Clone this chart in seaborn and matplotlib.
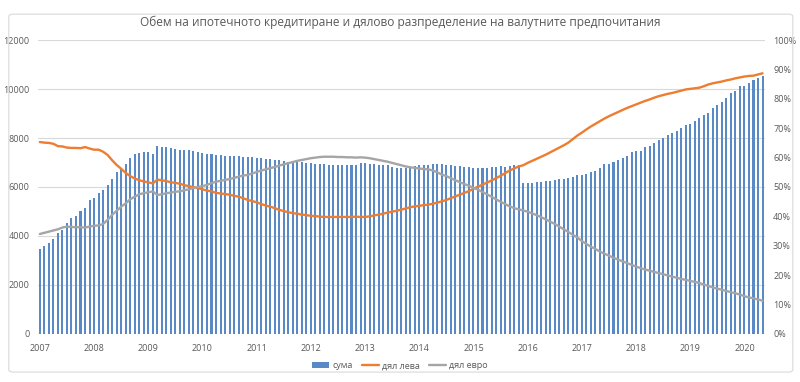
import matplotlib.pyplot as plt
import pandas as pd
import seaborn as sns
from matplotlib.lines import Line2D
from matplotlib.patches import FancyBboxPatch, Patch

TITLE = "Обем на ипотечното кредитиране и дялово разпределение на валутните предпочитания"

# monthly observations, Jan 2007 .. May 2020
MONTHS = pd.date_range("2007-01-01", "2020-05-01", freq="MS")
YEARS = [str(y) for y in range(2007, 2021)]

# volume of mortgage lending (left axis)
SUMA = [
    3460, 3570, 3700, 3860, 4110, 4240, 4540, 4750, 4810, 5000, 5140, 5460,   # 2007
    5560, 5760, 5860, 6090, 6330, 6600, 6740, 6940, 7170, 7340, 7390, 7420,   # 2008
    7420, 7360, 7660, 7620, 7620, 7600, 7550, 7500, 7530, 7500, 7460, 7420,   # 2009
    7390, 7360, 7360, 7320, 7300, 7280, 7280, 7280, 7260, 7210, 7230, 7230,   # 2010
    7200, 7190, 7160, 7150, 7120, 7090, 7070, 7040, 7040, 7030, 7010, 6990,   # 2011
    6960, 6940, 6930, 6920, 6900, 6900, 6900, 6900, 6880, 6880, 6900, 6990,   # 2012
    6960, 6940, 6920, 6900, 6890, 6880, 6810, 6780, 6780, 6780, 6810, 6850,   # 2013
    6880, 6880, 6900, 6920, 6920, 6920, 6900, 6880, 6850, 6850, 6820, 6820,   # 2014
    6790, 6790, 6790, 6790, 6820, 6820, 6850, 6820, 6850, 6880, 6880, 6170,   # 2015
    6170, 6170, 6190, 6220, 6230, 6260, 6300, 6330, 6330, 6370, 6410, 6480,   # 2016
    6510, 6550, 6600, 6670, 6770, 6920, 6940, 7040, 7120, 7190, 7280, 7420,   # 2017
    7460, 7480, 7620, 7660, 7800, 7930, 8000, 8120, 8210, 8270, 8390, 8530,   # 2018
    8580, 8680, 8820, 8950, 9040, 9220, 9360, 9490, 9650, 9830, 9940, 10140,  # 2019
    10140, 10260, 10370, 10470, 10540,                                        # 2020
]

# share in leva, % (right axis)
DYAL_LEVA = [
    65.3, 65.1, 65.0, 64.7, 63.9, 63.8, 63.4, 63.3, 63.3, 63.2, 63.6, 63.1,
    62.7, 62.7, 62.0, 60.9, 59.1, 57.5, 56.2, 54.8, 53.7, 52.9, 52.3, 51.9,
    51.6, 51.2, 52.5, 52.3, 52.0, 51.6, 51.4, 51.1, 50.6, 50.3, 49.9, 49.6,
    49.2, 48.8, 48.5, 48.0, 47.8, 47.6, 47.4, 47.0, 46.7, 46.2, 45.6, 45.2,
    44.8, 44.2, 43.7, 43.3, 42.8, 42.2, 41.8, 41.4, 41.1, 40.9, 40.6, 40.4,
    40.2, 40.1, 39.9, 39.8, 39.8, 39.8, 39.8, 39.8, 39.8, 39.8, 39.9, 39.8,
    39.8, 40.0, 40.3, 40.6, 40.9, 41.3, 41.6, 41.9, 42.3, 42.7, 43.1, 43.4,
    43.6, 43.8, 44.0, 44.3, 44.7, 45.1, 45.6, 46.2, 46.8, 47.4, 48.0, 48.6,
    49.4, 50.1, 50.8, 51.5, 52.2, 53.0, 53.8, 54.7, 55.6, 56.3, 57.0, 57.4,
    58.2, 58.9, 59.6, 60.3, 61.0, 61.8, 62.6, 63.4, 64.2, 65.1, 66.3, 67.5,
    68.5, 69.6, 70.6, 71.5, 72.4, 73.3, 74.1, 74.8, 75.5, 76.2, 76.9, 77.5,
    78.1, 78.7, 79.3, 79.8, 80.4, 80.9, 81.3, 81.7, 82.0, 82.4, 82.8, 83.2,
    83.4, 83.6, 83.8, 84.3, 84.9, 85.3, 85.6, 85.9, 86.3, 86.6, 87.0, 87.3,
    87.6, 87.8, 87.9, 88.3, 88.7,
]

# share in euro, % (right axis)
DYAL_EVRO = [
    34.0, 34.4, 34.8, 35.2, 35.6, 36.2, 36.5, 36.4, 36.3, 36.3, 36.2, 36.5,
    36.8, 36.9, 37.4, 38.8, 40.5, 41.9, 43.3, 44.4, 45.8, 46.7, 47.5, 47.9,
    48.2, 48.5, 47.3, 47.5, 47.9, 48.1, 48.4, 48.5, 48.9, 49.2, 49.7, 50.0,
    50.3, 50.7, 51.3, 51.8, 52.1, 52.4, 52.7, 53.1, 53.5, 53.9, 54.1, 54.6,
    55.1, 55.6, 56.0, 56.4, 56.8, 57.3, 57.7, 58.1, 58.5, 58.9, 59.2, 59.5,
    59.8, 60.0, 60.2, 60.3, 60.3, 60.3, 60.2, 60.2, 60.1, 60.1, 60.0, 60.1,
    60.0, 59.8, 59.5, 59.2, 58.9, 58.6, 58.2, 57.8, 57.4, 57.0, 56.7, 56.5,
    56.3, 56.1, 56.0, 55.6, 55.0, 54.2, 53.7, 53.0, 52.3, 51.6, 51.0, 50.4,
    49.7, 49.1, 48.3, 47.5, 46.7, 45.8, 45.0, 44.2, 43.4, 42.8, 42.4, 42.0,
    41.6, 41.0, 40.4, 39.7, 39.0, 38.2, 37.4, 36.5, 35.6, 34.7, 33.7, 32.8,
    31.6, 30.6, 29.7, 28.9, 28.0, 27.3, 26.6, 25.9, 25.3, 24.7, 24.1, 23.5,
    22.9, 22.4, 21.9, 21.5, 21.1, 20.7, 20.3, 19.9, 19.5, 19.1, 18.7, 18.4,
    18.0, 17.7, 17.3, 16.8, 16.3, 15.8, 15.4, 15.0, 14.6, 14.2, 13.8, 13.4,
    12.8, 12.4, 12.1, 11.7, 11.3,
]

BLUE = "#5A8AC6"
ORANGE = "#ED7D31"
GREY = "#A5A5A5"
TEXT = "#595959"

sns.set_theme(style="white")
plt.rcParams["font.family"] = ["Open Sans", "DejaVu Sans"]

df = pd.DataFrame({
    "idx": range(len(MONTHS)),
    "сума": SUMA,
    "дял лева": DYAL_LEVA,
    "дял евро": DYAL_EVRO,
})

fig = plt.figure(figsize=(8, 3.82), dpi=100)
ax = fig.add_axes([0.047, 0.126, 0.909, 0.769])

sns.barplot(data=df, x="idx", y="сума", color=BLUE, saturation=1,
            width=0.45, linewidth=0, ax=ax)
ax.set_xlim(-0.5, len(df) - 0.5)
ax.set_ylim(0, 12000)
ax.set_yticks(range(0, 12001, 2000))
ax.set_xticks(range(0, len(df), 12))
ax.set_xticklabels(YEARS)
ax.set_xlabel("")
ax.set_ylabel("")
ax.yaxis.grid(True, color="#D9D9D9", linewidth=0.8)
ax.set_axisbelow(True)
ax.tick_params(axis="both", length=0, labelsize=6.5, labelcolor=TEXT)
ax.tick_params(axis="y", pad=6)
ax.tick_params(axis="x", pad=7)
for s in ax.spines.values():
    s.set_visible(False)

ax2 = ax.twinx()
sns.lineplot(data=df, x="idx", y="дял лева", color=ORANGE, linewidth=1.7, ax=ax2)
sns.lineplot(data=df, x="idx", y="дял евро", color=GREY, linewidth=1.7, ax=ax2)
ax2.set_xlim(-0.5, len(df) - 0.5)
ax2.set_ylim(0, 100)
ax2.set_yticks(range(0, 101, 10))
ax2.set_yticklabels([f"{v}%" for v in range(0, 101, 10)])
ax2.set_ylabel("")
ax2.grid(False)
ax2.tick_params(axis="y", length=0, labelsize=6.5, labelcolor=TEXT, pad=6)
for s in ax2.spines.values():
    s.set_visible(False)

fig.text(0.5, 0.942, TITLE, ha="center", va="center", fontsize=8.6, color=TEXT)

handles = [
    Patch(facecolor=BLUE, edgecolor="none"),
    Line2D([], [], color=ORANGE, linewidth=1.7),
    Line2D([], [], color=GREY, linewidth=1.7),
]
fig.legend(handles, ["сума", "дял лева", "дял евро"], loc="center",
           bbox_to_anchor=(0.5, 0.042), ncol=3, frameon=False,
           fontsize=6.5, labelcolor=TEXT, handlelength=1.9,
           handleheight=0.6, columnspacing=1.0, handletextpad=0.35)

# light chart-area border, as in the spreadsheet export
fig.patches.append(FancyBboxPatch((0.011, 0.026), 0.98, 0.937,
                                  boxstyle="round,pad=0,rounding_size=0.006",
                                  transform=fig.transFigure, fill=False,
                                  edgecolor="#D9D9D9", linewidth=0.8))

fig.savefig("out.png", dpi=100)
